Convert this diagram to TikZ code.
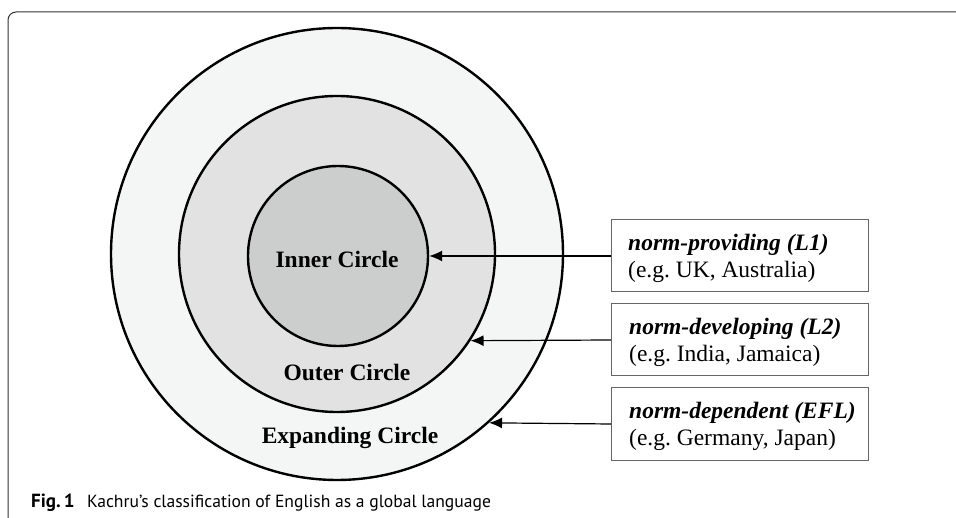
\documentclass[tikz,border=0pt]{standalone}
\usepackage{fontspec}
\usetikzlibrary{arrows.meta}
\setmainfont{Liberation Serif}
\newfontfamily\capfont{PT Sans}
\begin{document}
\begin{tikzpicture}[x=1pt,y=-1pt,
  ring/.style={circle, draw=black, line width=2.4pt, inner sep=0pt},
  lab/.style={font=\fontsize{23.5}{27}\selectfont\bfseries, anchor=base},
  infobox/.style={draw=black!60, line width=1pt, minimum width=257pt, minimum height=72pt, inner sep=0pt},
  infotext/.style={anchor=west, inner sep=0pt, align=left, font=\fontsize{23.5}{27}\selectfont},
  pointer/.style={-{Latex[length=13pt,width=11pt]}, line width=1.2pt},
  frameline/.style={draw=black!80, line width=1pt}
]
\useasboundingbox (0,0) rectangle (956,518);
\draw[frameline] (8,518) -- (8,20) arc[start angle=180, end angle=270, radius=8] -- (956,12);
\node[ring, fill={rgb,255:red,244;green,245;blue,245}, minimum size=452pt] (outer) at (337,254) {};
\node[ring, fill={rgb,255:red,226;green,226;blue,226}, minimum size=316pt] (mid) at (337,254) {};
\node[ring, fill={rgb,255:red,204;green,205;blue,205}, minimum size=180pt] (inner) at (338,256) {};
\node[lab] (tin) at (337,268) {Inner Circle};
\node[lab] (tout) at (347,381) {Outer Circle};
\node[lab] (texp) at (350,443) {Expanding Circle};
\node[infobox] (b1) at (739.5,256) {};
\node[infobox] (b2) at (740,340) {};
\node[infobox] (b3) at (740,424) {};
\node[infotext] (t1) at (628,258) {\textbf{\textit{norm-providing (L1)}}\\(e.g.\ UK, Australia)};
\node[infotext] (t2) at (629,342) {\textbf{\textit{norm-developing (L2)}}\\(e.g.\ India, Jamaica)};
\node[infotext] (t3) at (629,426) {\textbf{\textit{norm-dependent (EFL)}}\\(e.g.\ Germany, Japan)};
\draw[pointer] (b1.west) -- (inner.east);
\draw[pointer] (b2.west) -- (mid.-33.4);
\draw[pointer] (b3.west) -- (outer.-48.2);
\node[anchor=base west, inner sep=0pt, font=\capfont\fontsize{17.6}{20}\selectfont] (cap) at (31,507) {{\fontsize{19}{20}\selectfont\textbf{Fig.\,1}}\hspace{0.7em}Kachru’s classification of English as a global language};
\end{tikzpicture}
\end{document}
